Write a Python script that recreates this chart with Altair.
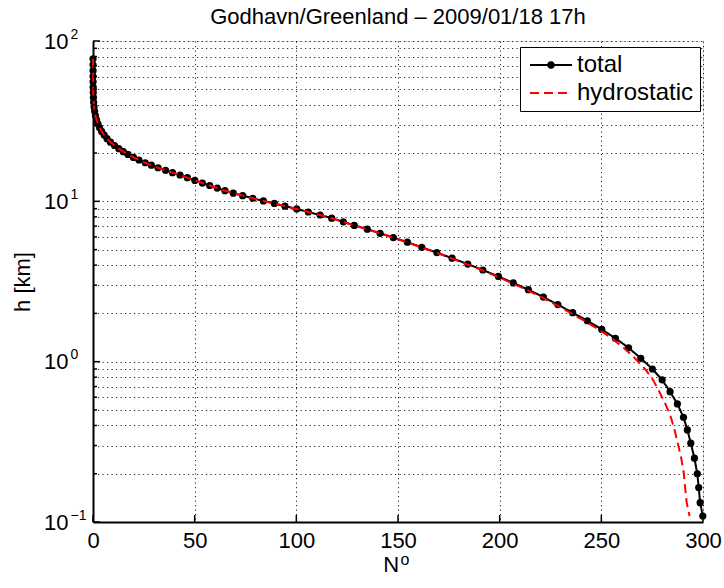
import altair as alt
import pandas as pd

FONT = "Liberation Sans"

TITLE = "Godhavn/Greenland – 2009/01/18 17h"
X_TITLE = "N"
X_TITLE_SUP = "o"
Y_TITLE = "h [km]"

# heights of the profile levels [km]
h_km = [77.5, 71, 65.3, 60.2, 55.6, 51.5, 47.8, 44.5, 41.5, 38.8,
        36.4, 34.2, 32.2, 30.4, 28.8, 27.3, 25.9, 24.6, 23.4, 22.3,
        21.3, 20.4, 19.6, 18.8, 18.1, 17.4, 16.8, 16.2, 15.6, 15.1,
        14.6, 14.05, 13.5, 13.0, 12.55, 12.1, 11.65, 11.25, 10.85, 10.45,
        10.06, 9.7, 9.33, 8.96, 8.58, 8.22, 7.85, 7.45, 7.08, 6.70,
        6.32, 5.94, 5.56, 5.17, 4.79, 4.42, 4.06, 3.73, 3.40, 3.10,
        2.81, 2.53, 2.27, 2.02, 1.80, 1.59, 1.40, 1.22, 1.05, 0.90,
        0.77, 0.65, 0.545, 0.45, 0.375, 0.31, 0.25, 0.20, 0.164, 0.132,
        0.109]

# total refractivity
n_total = [0.005, 0.01, 0.02, 0.03, 0.05, 0.08, 0.13, 0.21, 0.32, 0.53,
           0.81, 1.21, 1.75, 2.42, 3.24, 4.25, 5.5, 6.9, 8.6, 10.6,
           12.7, 14.9, 17.2, 19.9, 22.6, 25.7, 28.7, 32.0, 35.7, 39.1,
           42.8, 46.4, 50.1, 53.8, 57.4, 61.1, 64.9, 69.0, 73.6, 78.6,
           83.8, 89.2, 94.4, 100.2, 105.9, 111.7, 117.4, 123.1, 128.5, 134.9,
           141.2, 147.7, 154.6, 161.7, 169.1, 176.6, 184.3, 191.7, 199.4, 206.7,
           214.1, 221.5, 228.6, 235.9, 243.1, 250.2, 256.9, 263.4, 269.4, 275.1,
           279.9, 283.8, 287.4, 290.4, 292.3, 294.0, 295.8, 297.2, 297.9, 298.6,
           299.9]

# hydrostatic refractivity
n_hydro = [0.005, 0.01, 0.02, 0.03, 0.05, 0.08, 0.13, 0.21, 0.32, 0.53,
           0.81, 1.21, 1.75, 2.42, 3.24, 4.25, 5.5, 6.9, 8.6, 10.6,
           12.7, 14.9, 17.2, 19.9, 22.6, 25.7, 28.7, 32.0, 35.7, 39.1,
           42.8, 46.4, 50.1, 53.8, 57.4, 61.1, 64.9, 69.0, 73.6, 78.6,
           83.8, 89.2, 94.4, 100.2, 105.9, 111.65, 117.35, 123.0, 128.35, 134.7,
           141.05, 147.5, 154.35, 161.4, 168.7, 176.1, 183.7, 191.0, 198.6, 205.8,
           213.1, 220.4, 227.4, 234.6, 241.6, 248.6, 255.1, 261.0, 266.5, 271.5,
           275.4, 278.5, 281.5, 284.2, 286.0, 287.6, 289.3, 290.6, 291.2, 292.0,
           293.4]

series_names = ["total", "hydrostatic"]
series_colors = ["#000000", "#ff0000"]
series_dashes = [[1, 0], [9, 5]]

x_domain = [0, 300]
x_ticks = [0, 50, 100, 150, 200, 250, 300]
y_domain = [0.1, 100]
y_decades = [0.1, 1, 10, 100]
y_mantissa = "10"
y_exponents = ["−1", "0", "1", "2"]
y_minor = [0.2, 0.3, 0.4, 0.5, 0.6, 0.7, 0.8, 0.9,
           2, 3, 4, 5, 6, 7, 8, 9,
           20, 30, 40, 50, 60, 70, 80, 90]

total_df = pd.DataFrame({"h": h_km, "N": n_total, "series": series_names[0]})
hydro_df = pd.DataFrame({"h": h_km, "N": n_hydro, "series": series_names[1]})
ymaj_df = pd.DataFrame({"v": y_decades})
ymin_df = pd.DataFrame({"v": y_minor})
xt_df = pd.DataFrame({"v": x_ticks})

xs = alt.Scale(domain=x_domain, nice=False, zero=False)
ys = alt.Scale(type="log", domain=y_domain, nice=False)

GRID = dict(grid=True, gridColor="#000000", gridOpacity=0.85, gridWidth=1, gridDash=[1.2, 3.3])

dec_list = "[" + ",".join(str(v) for v in y_decades) + "]"
mant_expr = f"indexof({dec_list}, datum.value) >= 0 ? '{y_mantissa}' : ''"
exp_expr = "".join(f"datum.value == {v} ? '{e}' : " for v, e in zip(y_decades, y_exponents)) + "''"

x_axis_main = alt.Axis(values=x_ticks, **GRID, domain=True, domainColor="black", domainWidth=2,
                       ticks=False, tickSize=0, labelFont=FONT, labelFontSize=22, labelColor="black",
                       labelPadding=8, labelFlush=False, labelOverlap=False, format="d",
                       title=X_TITLE, titleFont=FONT, titleFontSize=22, titleFontWeight="normal",
                       titleColor="black", titleX=297.7, titleY=42, titleAlign="center",
                       titleBaseline="middle")
x_axis_sup = alt.Axis(orient="bottom", labels=False, domain=False, grid=False, ticks=False, tickSize=0,
                      title=X_TITLE_SUP, titleFont=FONT, titleFontSize=16, titleFontWeight="normal",
                      titleColor="black", titleX=311.5, titleY=37, titleAlign="center",
                      titleBaseline="middle")
y_axis_main = alt.Axis(values=sorted(y_decades + y_minor), **GRID, domain=True, domainColor="black",
                       domainWidth=2, ticks=False, tickSize=0, labelExpr=mant_expr, labelFont=FONT,
                       labelFontSize=22, labelColor="black", labelPadding=25, labelAlign="right",
                       labelBaseline="middle", labelOverlap=False, labelFlush=False,
                       title=Y_TITLE, titleFont=FONT, titleFontSize=22, titleFontWeight="normal",
                       titleColor="black", titleX=-71, titleY=240.5, titleAngle=270,
                       titleAlign="center", titleBaseline="middle")
y_axis_exp = alt.Axis(orient="left", values=y_decades, labelExpr=exp_expr, domain=False, grid=False,
                      ticks=False, tickSize=0, labelFont=FONT, labelFontSize=14, labelColor="black",
                      labelPadding=23, labelAlign="left", labelBaseline="middle", labelOffset=-7,
                      labelOverlap=False, labelFlush=False, title=None)

# legend symbols: a line with a solid dot (drawn as concentric rings) for "total", a plain line otherwise
shape_total = ("M-3,0L3,0"
               "M-0.1,0A0.1,0.1,0,1,1,0.1,0A0.1,0.1,0,1,1,-0.1,0"
               "M-0.2,0A0.2,0.2,0,1,1,0.2,0A0.2,0.2,0,1,1,-0.2,0"
               "M-0.3,0A0.3,0.3,0,1,1,0.3,0A0.3,0.3,0,1,1,-0.3,0"
               "M-0.4,0A0.4,0.4,0,1,1,0.4,0A0.4,0.4,0,1,1,-0.4,0")
shape_hydro = "M-3,0L3,0"
legend = alt.Legend(
    orient="none", legendX=427, legendY=6, title=None, direction="vertical",
    fillColor="white", strokeColor="black", padding=6, cornerRadius=0,
    labelFont=FONT, labelFontSize=24, labelColor="black", labelOffset=14, labelLimit=400,
    rowPadding=4, symbolSize=196, symbolStrokeWidth=2, symbolOffset=13, symbolOpacity=1,
    symbolType={"expr": f"datum.value === '{series_names[0]}' ? '{shape_total}' : '{shape_hydro}'"},
    symbolFillColor={"expr": f"datum.value === '{series_names[0]}' ? '{series_colors[0]}' : 'transparent'"},
)
color_enc = alt.Color("series:N", scale=alt.Scale(domain=series_names, range=series_colors), legend=legend)
dash_enc = alt.StrokeDash("series:N", scale=alt.Scale(domain=series_names, range=series_dashes), legend=legend)

total_line = alt.Chart(total_df).mark_line(strokeWidth=2).encode(
    x=alt.X("N:Q", scale=xs, axis=x_axis_main),
    y=alt.Y("h:Q", scale=ys, axis=y_axis_main),
    color=color_enc,
    strokeDash=dash_enc,
    order=alt.Order("h:Q", sort="descending"),
)
total_pts = alt.Chart(total_df).mark_circle(size=52, color="black", opacity=1).encode(
    x=alt.X("N:Q", scale=xs, axis=None),
    y=alt.Y("h:Q", scale=ys, axis=None),
)
hydro_line = alt.Chart(hydro_df).mark_line(strokeWidth=2).encode(
    x=alt.X("N:Q", scale=xs, axis=x_axis_sup),
    y=alt.Y("h:Q", scale=ys, axis=y_axis_exp),
    color=color_enc,
    strokeDash=dash_enc,
    order=alt.Order("h:Q", sort="descending"),
)
ytick_major = alt.Chart(ymaj_df).mark_rule(color="black", strokeWidth=1.5).encode(
    y=alt.Y("v:Q", scale=ys, axis=None), x=alt.value(0), x2=alt.value(7))
ytick_minor = alt.Chart(ymin_df).mark_rule(color="black", strokeWidth=1.5).encode(
    y=alt.Y("v:Q", scale=ys, axis=None), x=alt.value(0), x2=alt.value(4))
xtick = alt.Chart(xt_df).mark_rule(color="black", strokeWidth=1.5).encode(
    x=alt.X("v:Q", scale=xs, axis=None), y=alt.value(481), y2=alt.value(474))

chart = alt.layer(total_line, total_pts, hydro_line, ytick_major, ytick_minor, xtick).resolve_axis(
    x="independent", y="independent"
).properties(
    width=610, height=481, autosize="none",
    padding={"left": 93, "top": 41, "right": 21, "bottom": 66},
    title=alt.TitleParams(TITLE, font=FONT, fontSize=22, fontWeight="normal", color="black",
                          anchor="middle", frame="group", baseline="alphabetic", offset=-19),
).configure_view(strokeWidth=0).configure_legend(strokeWidth=1).configure(background="white")

chart.save("out.html", embed_options={"renderer": "svg", "actions": False})
